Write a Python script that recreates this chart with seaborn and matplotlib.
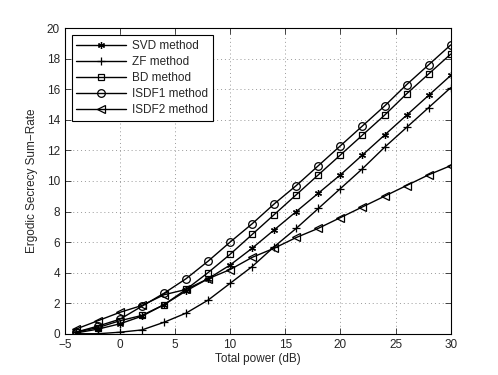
import matplotlib
matplotlib.use("Agg")
import numpy as np
import pandas as pd
import seaborn as sns
import matplotlib.pyplot as plt

# data
power_db = [-4, -2, 0, 2, 4, 6, 8, 10, 12, 14, 16, 18, 20, 22, 24, 26, 28, 30]
svd = [0.05, 0.3, 0.65, 1.15, 1.9, 2.8, 3.6, 4.5, 5.6, 6.8, 8.0, 9.2, 10.4, 11.7, 13.0, 14.3, 15.6, 16.9]
zf = [0.0, 0.0, 0.1, 0.25, 0.75, 1.35, 2.2, 3.3, 4.4, 5.7, 6.9, 8.2, 9.5, 10.8, 12.2, 13.5, 14.8, 16.1]
bd = [0.1, 0.4, 0.85, 1.2, 1.9, 2.9, 4.0, 5.2, 6.5, 7.8, 9.1, 10.4, 11.7, 13.0, 14.3, 15.7, 17.0, 18.3]
isdf1 = [0.1, 0.5, 0.95, 1.8, 2.65, 3.6, 4.75, 6.0, 7.2, 8.5, 9.7, 11.0, 12.3, 13.6, 14.9, 16.3, 17.6, 18.9]
isdf2 = [0.3, 0.85, 1.4, 1.85, 2.55, 2.9, 3.6, 4.2, 5.0, 5.6, 6.3, 6.9, 7.6, 8.3, 9.0, 9.7, 10.4, 11.0]

methods = ["SVD method", "ZF method", "BD method", "ISDF1 method", "ISDF2 method"]
values = [svd, zf, bd, isdf1, isdf2]
markers = [(6, 2, 0), "+", "s", "o", "<"]
sizes = [5, 6, 4, 5.5, 5.5]

sns.set_style("ticks")
plt.rcParams["font.family"] = ["Liberation Sans", "DejaVu Sans"]
plt.rcParams["font.size"] = 8.5

fig = plt.figure(figsize=(4.98, 3.75), dpi=100)
ax = fig.add_axes([0.13, 0.11, 0.775, 0.815])

for name, vals, mk, ms in zip(methods, values, markers, sizes):
    df = pd.DataFrame({"power": power_db, "rate": vals})
    sns.lineplot(data=df, x="power", y="rate", ax=ax, color="black", linewidth=1.0,
                 marker=mk, markersize=ms, markerfacecolor="none", markeredgecolor="black",
                 markeredgewidth=0.9, label=name)

ax.set_xlim(-5, 30)
ax.set_ylim(0, 20)
ax.set_xticks(np.arange(-5, 31, 5))
ax.set_yticks(np.arange(0, 21, 2))
ax.grid(True, linestyle=(0, (1, 3)), color="#999999", linewidth=0.7)
ax.tick_params(direction="in", top=True, right=True, length=4, width=0.6, labelsize=8.5)
for s in ax.spines.values():
    s.set_linewidth(0.8)
    s.set_color("black")
ax.set_xlabel("Total power (dB)", fontsize=8.5, labelpad=2)
ax.set_ylabel("Ergodic Secrecy Sum\u2212Rate", fontsize=8.5, labelpad=6)

leg = ax.legend(loc="upper left", bbox_to_anchor=(0.012, 0.985), fontsize=8.5,
                handlelength=4.2, fancybox=False, framealpha=1, edgecolor="black",
                borderaxespad=0.2, labelspacing=0.35, handletextpad=0.5)
leg.get_frame().set_linewidth(0.8)

fig.savefig("out.png", dpi=100)
